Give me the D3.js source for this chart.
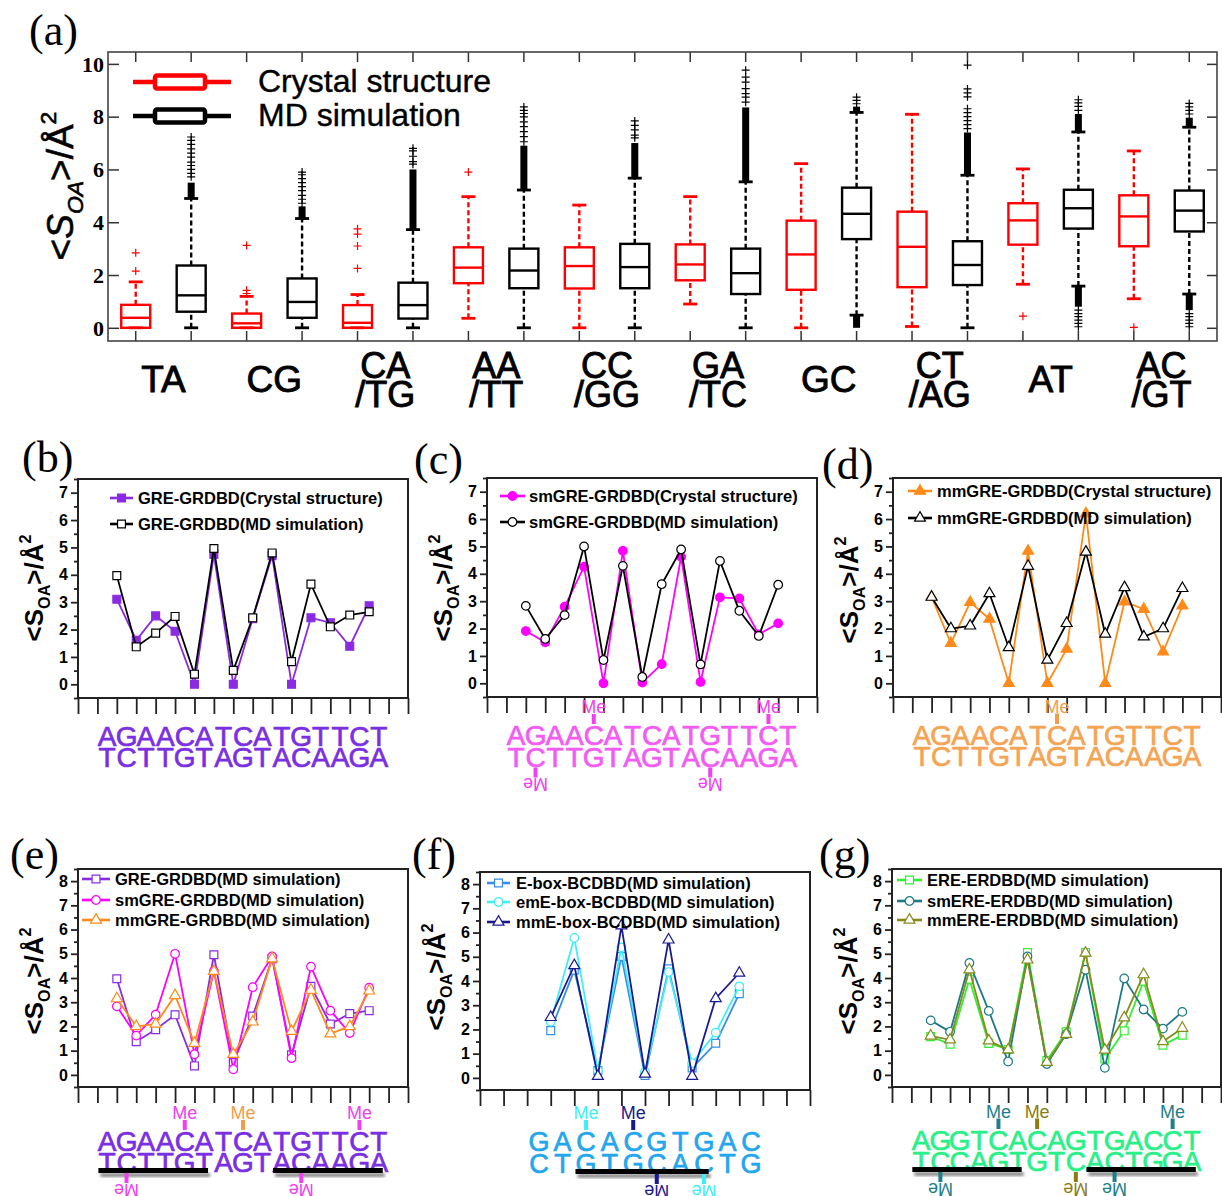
<!DOCTYPE html>
<html><head><meta charset="utf-8">
<script src="https://cdn.jsdelivr.net/npm/d3@7/dist/d3.min.js"></script>
<style>html,body{margin:0;padding:0;background:#fff;}svg{display:block;}</style>
</head><body>
<svg id="fig" width="1222" height="1196" xmlns="http://www.w3.org/2000/svg"></svg>
<script>
const SANS = "'Liberation Sans', Arial, sans-serif";
const SERIF = "'Liberation Serif', 'Times New Roman', serif";

// ================= DATA : panel (a) =================
const stepCategories = ["TA","CG","CA/TG","AA/TT","CC/GG","GA/TC","GC","CT/AG","AT","AC/GT"];
const boxSources = ["Crystal structure","MD simulation"];
const yTicksA = [0,2,4,6,8,10];
// [lower whisker, Q1, median, Q3, upper whisker]
const crystalStats = [
  [0,0,0.38,0.87,1.74],
  [0,0,0.17,0.54,1.19],
  [0,0,0.19,0.86,1.26],
  [0.36,1.69,2.28,3.05,4.97],
  [0,1.49,2.34,3.05,4.65],
  [0.9,1.8,2.4,3.16,4.97],
  [0,1.44,2.78,4.06,6.22],
  [0.05,1.54,3.07,4.4,8.09],
  [1.65,3.15,4.07,4.72,6.02],
  [1.1,3.09,4.22,5.02,6.7]
];
const mdStats = [
  [0,0.61,1.23,2.36,4.9],
  [0,0.38,0.98,1.87,4.14],
  [0,0.35,0.86,1.71,3.72],
  [0,1.5,2.17,3.0,5.22],
  [0,1.5,2.3,3.18,5.67],
  [0,1.28,2.07,3.0,5.53],
  [0.48,3.36,4.32,5.31,8.16],
  [0,1.62,2.38,3.28,5.78],
  [1.58,3.76,4.53,5.23,7.42],
  [1.28,3.65,4.44,5.2,7.6]
];
const crystalOutliers = [[2.15,2.84],[1.3,1.42,3.12],[2.25,3.1,3.55,3.75],[5.9],[],[],[],[],[0.44],[0.02]];
const mdOutliers = [
  [5.72,5.85,6.0,6.15,6.28,6.47,6.62,6.78,6.95,7.1,7.23],
  [4.72,4.87,5.02,5.2,5.35,5.5,5.65,5.8,5.9],
  [6.2,6.3,6.5,6.7,6.8],
  [7.05,7.24,7.43,7.62,7.8,7.99,8.12,8.24,8.37],
  [7.2,7.3,7.5,7.67,7.84],
  [8.55,8.74,8.87,9.06,9.31,9.5,9.76],
  [8.49,8.62,8.74],
  [7.55,7.7,7.85,8.0,8.15,8.3,8.75,8.9,9.05,9.95],
  [8.24,8.39,8.52,8.64,0.67,0.54,0.42,0.29,0.17,0.04],
  [8.1,8.24,8.37,8.5,0.54,0.42,0.29,0.17,0.04]
];
// ranges where MD outliers overlap into a solid column [from, to]
const mdDenseHigh = [[4.9,5.5],[4.14,4.6],[3.72,6.0],[5.22,6.9],[5.67,7.0],[5.53,8.35],[8.16,8.38],[5.78,7.4],[7.42,8.1],[7.6,7.96]];
const mdDenseLow = [null,null,null,null,null,null,[0,0.48],null,[0.8,1.58],[0.67,1.28]];

// ================= DATA : panels (b)-(g) =================
const greSeq = ["AGAACATCATGTTCT","TCTTGTAGTACAAGA"];
const ereSeq = ["AGGTCACAGTGACCT","TCCAGTGTCACTGGA"];
const eboxSeq = ["GACACGTGAC","CTGTGCACTG"];
const yTicksTop = [0,1,2,3,4,5,6,7];
const yTicksBottom = [0,1,2,3,4,5,6,7,8];

const greCrystal   = [3.11,1.61,2.5,1.94,0,4.75,0,2.4,4.7,0,2.43,2.25,1.39,2.87];
const greMD        = [3.97,1.37,1.87,2.48,0.37,4.96,0.51,2.43,4.8,0.83,3.66,2.1,2.53,2.65];
const smgreCrystal = [1.91,1.5,2.8,4.26,0,4.84,0.03,0.7,4.62,0.05,3.14,3.1,1.79,2.19];
const smgreMD      = [2.83,1.62,2.49,5.0,0.85,4.29,0.23,3.62,4.89,0.69,4.47,2.65,1.73,3.6];
const mmgreCrystal = [3.16,1.46,2.96,2.35,0,4.83,0,1.25,6.2,0,2.98,2.71,1.15,2.83];
const mmgreMD      = [3.15,2.0,2.1,3.28,1.31,4.28,0.85,2.19,4.8,1.8,3.5,1.7,2.0,3.47];
const eboxMD       = [1.95,4.45,0.3,5.01,0.1,4.5,0.41,1.43,3.48];
const emeboxMD     = [2.32,5.78,0.31,5.39,0.25,4.37,0.61,1.87,3.78];
const mmeboxMD     = [2.5,4.64,0.07,6.28,0.16,5.7,0.07,3.28,4.33];
const ereMD        = [1.58,1.27,3.95,1.3,1.05,5.05,0.59,1.78,5.05,0.66,1.82,3.87,1.23,1.64];
const smereMD      = [2.25,1.78,4.62,2.64,0.55,4.89,0.45,1.68,4.34,0.29,3.98,2.7,1.91,2.6];
const mmereMD      = [1.61,1.45,4.34,1.41,1.04,4.75,0.52,1.68,5.03,1.03,2.36,4.14,1.38,1.93];

// ================= STYLE =================
const C = {
  red:"#ff0000", black:"#000000",
  gre:"#8a2be2", greText:"#7a2fe3",
  sm:"#ff00ff", smText:"#f25cf2", smMe:"#f040f0",
  mm:"#ff8a1a", mmText:"#f5a454", mmMe:"#f59c4a",
  ebox:"#3a8ee6", emebox:"#3df0f8", mmebox:"#1a1a8f", eboxText:"#22a6ee",
  ere:"#33ee33", smere:"#1d7a84", mmere:"#878a1c", ereText:"#2af089", ereTeal:"#1d8088", ereOlive:"#8c7c12"
};

const svg = d3.select("#fig");
svg.append("rect").attr("width",1222).attr("height",1196).attr("fill","#fff");
const defs = svg.append("defs");
defs.append("filter").attr("id","blur").append("feGaussianBlur").attr("stdDeviation",1.6);

function panelLabel(t, x, y){
  svg.append("text").attr("x",x).attr("y",y).attr("font-family",SERIF).attr("font-size",44).text(t);
}
function yLabel(x, y, size, italic, weight, stroke){
  const t = svg.append("text").attr("transform",`translate(${x},${y}) rotate(-90)`)
    .attr("text-anchor","middle").attr("font-family",SANS).attr("font-size",size).attr("font-weight",weight);
  if (stroke) t.attr("stroke","#000").attr("stroke-width",stroke);
  t.append("tspan").text("<");
  t.append("tspan").text("S").attr("font-style",italic?"italic":null);
  t.append("tspan").text("OA").attr("font-size",size*0.62).attr("dy",size*0.28).attr("font-style",italic?"italic":null);
  t.append("tspan").text(">/Å").attr("dy",-size*0.28);
  t.append("tspan").text("2").attr("font-size",size*0.62).attr("dy",-size*0.45);
}

// ================= PANEL (a) =================
(function(){
  const F = {x0:108, x1:1217, y0:52, y1:341};
  const g = svg.append("g");
  const slots = [];
  stepCategories.forEach(c => boxSources.forEach(s => slots.push(c+"|"+s)));
  const x = d3.scaleBand().domain(slots).range([F.x0, F.x1]);
  const y = d3.scaleLinear().domain([-0.5,10.45]).range([F.y1, F.y0]);
  const cx = k => x(k) + x.bandwidth()/2;

  // axes
  g.append("g").attr("transform",`translate(${F.x0},0)`)
    .call(d3.axisRight(y).tickValues(yTicksA).tickSize(11).tickFormat(""))
    .call(a=>a.select(".domain").remove());
  g.append("g").attr("transform",`translate(${F.x1},0)`)
    .call(d3.axisLeft(y).tickValues(yTicksA).tickSize(10).tickFormat(""))
    .call(a=>a.select(".domain").remove());
  g.append("g").attr("transform",`translate(0,${F.y0})`)
    .call(d3.axisBottom(x).tickSize(10).tickFormat(""))
    .call(a=>a.select(".domain").remove());
  g.append("g").attr("transform",`translate(0,${F.y1})`)
    .call(d3.axisTop(x).tickSize(10).tickFormat(""))
    .call(a=>a.select(".domain").remove());
  g.selectAll(".tick line").attr("stroke","#333").attr("stroke-width",1.5);
  g.append("rect").attr("x",F.x0).attr("y",F.y0).attr("width",F.x1-F.x0).attr("height",F.y1-F.y0)
    .attr("fill","none").attr("stroke","#444").attr("stroke-width",1.6);
  g.selectAll(".ylab").data(yTicksA).enter().append("text")
    .attr("x",F.x0-4).attr("y",d=>y(d)).attr("dy","0.35em").attr("text-anchor","end")
    .attr("font-family",SERIF).attr("font-weight","bold").attr("font-size",22).text(d=>d);

  const bw = 29;
  function drawBox(k, st, color, outl, dHi, dLo){
    const c = cx(k);
    const [lo,q1,med,q3,hi] = st;
    const bg = g.append("g");
    bg.append("line").attr("x1",c).attr("x2",c).attr("y1",y(q3)).attr("y2",y(hi))
      .attr("stroke",color).attr("stroke-width",2.4).attr("stroke-dasharray","5,3");
    if (q1 > lo) bg.append("line").attr("x1",c).attr("x2",c).attr("y1",y(lo)).attr("y2",y(q1))
      .attr("stroke",color).attr("stroke-width",2.4).attr("stroke-dasharray","5,3");
    if (dHi) bg.append("rect").attr("x",c-3.5).attr("width",7).attr("y",y(dHi[1])).attr("height",y(dHi[0])-y(dHi[1])).attr("fill",color);
    if (dLo) bg.append("rect").attr("x",c-3.5).attr("width",7).attr("y",y(dLo[1])).attr("height",y(dLo[0])-y(dLo[1])).attr("fill",color);
    [hi,lo].forEach(v => bg.append("line").attr("x1",c-7).attr("x2",c+7).attr("y1",y(v)).attr("y2",y(v))
      .attr("stroke",color).attr("stroke-width",2.8));
    bg.append("rect").attr("x",c-bw/2).attr("width",bw).attr("y",y(q3)).attr("height",y(q1)-y(q3))
      .attr("fill","none").attr("stroke",color).attr("stroke-width",2.4);
    bg.append("line").attr("x1",c-bw/2).attr("x2",c+bw/2).attr("y1",y(med)).attr("y2",y(med))
      .attr("stroke",color).attr("stroke-width",2.4);
    bg.selectAll(".o").data(outl).enter().append("path")
      .attr("d",v=>`M${c-4},${y(v)}H${c+4}M${c},${y(v)-4}V${y(v)+4}`)
      .attr("stroke",color).attr("stroke-width",1.2).attr("fill","none");
  }
  stepCategories.forEach((cat,i)=>{
    drawBox(cat+"|"+boxSources[0], crystalStats[i], C.red, crystalOutliers[i], null, null);
    drawBox(cat+"|"+boxSources[1], mdStats[i], C.black, mdOutliers[i], mdDenseHigh[i], mdDenseLow[i]);
    const mid = (cx(cat+"|"+boxSources[0]) + cx(cat+"|"+boxSources[1]))/2;
    const parts = cat.split("/");
    const lab = t => g.append("text").attr("x",mid).attr("text-anchor","middle")
        .attr("font-family",SANS).attr("stroke","#000").attr("stroke-width",0.9).text(t);
    if (parts.length === 1) {
      lab(cat).attr("y",392).attr("font-size",37);
    } else {
      lab(parts[0]).attr("y",378).attr("font-size",36);
      lab("/"+parts[1]).attr("y",407).attr("font-size",36);
    }
  });
  // legend
  [[C.red,82,92],[C.black,116,126]].forEach(([col,ly,ty],i)=>{
    g.append("line").attr("x1",133).attr("x2",231).attr("y1",ly).attr("y2",ly).attr("stroke",col).attr("stroke-width",4.5);
    g.append("rect").attr("x",155).attr("y",ly-6.5).attr("width",50).attr("height",13).attr("rx",2)
      .attr("fill","#fff").attr("stroke",col).attr("stroke-width",4.5);
    g.append("text").attr("x",258).attr("y",ty).attr("font-family",SANS).attr("font-size",32)
      .attr("stroke","#000").attr("stroke-width",0.4).text(boxSources[i]);
  });
  yLabel(73,186,37,true,"normal",0.6);
  panelLabel("(a)",29,45);
})();

// ================= PANELS (b)-(g) =================
const symbolOf = {square:d3.symbolSquare, circle:d3.symbolCircle, triangle:d3.symbolTriangle};
const symSize = {square:62, circle:58, triangle:52};

function drawLinePanel(p){
  const g = svg.append("g");
  const x = d3.scaleLinear().domain([0,p.nTicks-1]).range([p.x0,p.x1]);
  const y = d3.scaleLinear().domain([-0.5, p.yTicks[p.yTicks.length-1]+0.5]).range([p.y1,p.y0]);
  const yMax = p.yTicks[p.yTicks.length-1];
  // y axis major + minor
  g.append("g").attr("transform",`translate(${p.x0},0)`)
    .call(d3.axisLeft(y).tickValues(d3.range(-0.5,yMax+0.6,1)).tickSize(4).tickFormat(""))
    .call(a=>a.select(".domain").remove());
  g.append("g").attr("transform",`translate(${p.x0},0)`)
    .call(d3.axisLeft(y).tickValues(p.yTicks).tickSize(7).tickPadding(3))
    .call(a=>a.select(".domain").remove())
    .call(a=>a.selectAll("text").attr("font-family",SANS).attr("font-weight","bold").attr("font-size",16).attr("fill","#000"));
  // x axis ticks (outward)
  g.append("g").attr("transform",`translate(0,${p.y1})`)
    .call(d3.axisBottom(x).tickValues(d3.range(p.nTicks)).tickSize(16).tickFormat(""))
    .call(a=>a.select(".domain").remove());
  g.selectAll(".tick line").attr("stroke","#222").attr("stroke-width",1.8);
  g.append("rect").attr("x",p.x0).attr("y",p.y0).attr("width",p.x1-p.x0).attr("height",p.y1-p.y0)
    .attr("fill","none").attr("stroke","#222").attr("stroke-width",2);

  // series
  const line = d3.line().x((d,i)=>x(i+p.offset)).y(d=>y(d));
  p.series.forEach(s=>{
    g.append("path").datum(s.values).attr("d",line).attr("fill","none").attr("stroke",s.line).attr("stroke-width",1.8);
    g.selectAll(null).data(s.values).enter().append("path")
      .attr("transform",(d,i)=>`translate(${x(i+p.offset)},${y(d)})`)
      .attr("d",d3.symbol().type(symbolOf[s.symbol]).size(symSize[s.symbol]))
      .attr("fill",s.filled?s.marker:"#fff").attr("stroke",s.marker).attr("stroke-width",1.2);
  });
  // legend
  p.series.forEach((s,i)=>{
    const ly = p.legend.ys[i];
    g.append("line").attr("x1",p.legend.x).attr("x2",p.legend.x+p.legend.w).attr("y1",ly).attr("y2",ly)
      .attr("stroke",s.line).attr("stroke-width",2.6);
    g.append("path").attr("transform",`translate(${p.legend.x+p.legend.w/2},${ly})`)
      .attr("d",d3.symbol().type(symbolOf[s.symbol]).size(symSize[s.symbol]))
      .attr("fill",s.filled?s.marker:"#fff").attr("stroke",s.marker).attr("stroke-width",1.2);
    g.append("text").attr("x",p.legend.tx).attr("y",ly).attr("dy","0.36em")
      .attr("font-family",SANS).attr("font-weight","bold").attr("font-size",16.5).text(s.name);
  });

  // sequence
  const step = x(1)-x(0);
  const lx = k => x(k + p.offset - 0.5);
  p.seq.forEach((strand,si)=>{
    g.selectAll(null).data(strand.split("")).enter().append("text")
      .attr("x",(d,k)=>lx(k)).attr("y",si===0?p.topBase:p.botBase).attr("text-anchor","middle")
      .attr("font-family",SANS).attr("font-size",p.seqSize).attr("fill",p.seqColor)
      .attr("stroke",p.seqColor).attr("stroke-width",0.7).text(d=>d);
  });
  (p.bars||[]).forEach(b=>{
    const xa = lx(b[0]) - 0.45*step, xb = lx(b[1]) + 0.2*step;
    g.append("rect").attr("x",xa+2).attr("y",p.botBase+1).attr("width",xb-xa).attr("height",4)
      .attr("fill","#888").attr("filter","url(#blur)");
    g.append("rect").attr("x",xa).attr("y",p.botBase-4).attr("width",xb-xa).attr("height",5).attr("fill","#000");
  });
  (p.me||[]).forEach(m=>{
    const c = lx(m.idx);
    if (m.strand===0){
      g.append("text").attr("x",c).attr("y",p.meBase).attr("text-anchor","middle")
        .attr("font-family",SANS).attr("font-size",18).attr("fill",m.color).text("Me");
      g.append("rect").attr("x",c-2).attr("y",p.meBase+1).attr("width",4).attr("height",p.topBase-21-p.meBase-1).attr("fill",m.color);
    } else {
      g.append("rect").attr("x",c-2).attr("y",p.botBase+1).attr("width",4).attr("height",10).attr("fill",m.color);
      g.append("text").attr("transform",`translate(${c},${p.botBase+18}) rotate(180)`).attr("text-anchor","middle")
        .attr("dy","0.36em").attr("font-family",SANS).attr("font-size",18).attr("fill",m.color).text("Me");
    }
  });
  yLabel(p.x0-35, p.ylabY, 26, false, "bold", 0);
  panelLabel(p.label, p.lab[0], p.lab[1]);
}

const panels = [
  {label:"(b)", lab:[22,472], x0:78, x1:408, y0:479, y1:698, yTicks:yTicksTop, nTicks:18, offset:2, ylabY:588,
   seq:greSeq, seqColor:C.greText, seqSize:28, topBase:746, botBase:767,
   legend:{x:110,w:23,ys:[498,524],tx:138},
   series:[{name:"GRE-GRDBD(Crystal structure)", values:greCrystal, line:C.gre, marker:C.gre, symbol:"square", filled:true},
           {name:"GRE-GRDBD(MD simulation)", values:greMD, line:"#000", marker:"#000", symbol:"square", filled:false}]},
  {label:"(c)", lab:[414,474], x0:487, x1:817, y0:478, y1:697, yTicks:yTicksTop, nTicks:18, offset:2, ylabY:588,
   seq:greSeq, seqColor:C.smText, seqSize:28, topBase:745, botBase:766.5, meBase:713,
   legend:{x:500,w:25,ys:[496,522],tx:529},
   me:[{strand:0,idx:4,color:C.smMe},{strand:0,idx:13,color:C.smMe},{strand:1,idx:1,color:C.smMe},{strand:1,idx:10,color:C.smMe}],
   series:[{name:"smGRE-GRDBD(Crystal structure)", values:smgreCrystal, line:C.sm, marker:C.sm, symbol:"circle", filled:true},
           {name:"smGRE-GRDBD(MD simulation)", values:smgreMD, line:"#000", marker:"#000", symbol:"circle", filled:false}]},
  {label:"(d)", lab:[822,479], x0:893, x1:1221, y0:478, y1:697, yTicks:yTicksTop, nTicks:18, offset:2, ylabY:590,
   seq:greSeq, seqColor:C.mmText, seqSize:28, topBase:745, botBase:765.5, meBase:712.5,
   legend:{x:908,w:24,ys:[491,518],tx:937},
   me:[{strand:0,idx:7,color:C.mmMe}],
   series:[{name:"mmGRE-GRDBD(Crystal structure)", values:mmgreCrystal, line:C.mm, marker:C.mm, symbol:"triangle", filled:true},
           {name:"mmGRE-GRDBD(MD simulation)", values:mmgreMD, line:"#000", marker:"#000", symbol:"triangle", filled:false}]},
  {label:"(e)", lab:[10,869], x0:78, x1:408, y0:869, y1:1087, yTicks:yTicksBottom, nTicks:18, offset:2, ylabY:981,
   seq:greSeq, seqColor:C.greText, seqSize:28, topBase:1151, botBase:1172, meBase:1119,
   legend:{x:82,w:28,ys:[879,900,920],tx:115},
   bars:[[0,5],[9,14]],
   me:[{strand:0,idx:4,color:C.smMe},{strand:0,idx:7,color:C.mmMe},{strand:0,idx:13,color:C.smMe},{strand:1,idx:1,color:C.smMe},{strand:1,idx:10,color:C.smMe}],
   series:[{name:"GRE-GRDBD(MD simulation)", values:greMD, line:C.gre, marker:C.gre, symbol:"square", filled:false},
           {name:"smGRE-GRDBD(MD simulation)", values:smgreMD, line:C.sm, marker:C.sm, symbol:"circle", filled:false},
           {name:"mmGRE-GRDBD(MD simulation)", values:mmgreMD, line:C.mm, marker:C.mm, symbol:"triangle", filled:false}]},
  {label:"(f)", lab:[412,869], x0:480, x1:810, y0:872, y1:1090, yTicks:yTicksBottom, nTicks:15, offset:3, ylabY:977,
   seq:eboxSeq, seqColor:C.eboxText, seqSize:27, topBase:1151, botBase:1173, meBase:1119,
   legend:{x:487,w:23,ys:[883,902,922],tx:516},
   bars:[[2,7]],
   me:[{strand:0,idx:2,color:C.emebox},{strand:0,idx:4,color:C.mmebox},{strand:1,idx:5,color:C.mmebox},{strand:1,idx:7,color:C.emebox}],
   series:[{name:"E-box-BCDBD(MD simulation)", values:eboxMD, line:C.ebox, marker:C.ebox, symbol:"square", filled:false},
           {name:"emE-box-BCDBD(MD simulation)", values:emeboxMD, line:C.emebox, marker:C.emebox, symbol:"circle", filled:false},
           {name:"mmE-box-BCDBD(MD simulation)", values:mmeboxMD, line:C.mmebox, marker:C.mmebox, symbol:"triangle", filled:false}]},
  {label:"(g)", lab:[819,869], x0:892, x1:1221, y0:869, y1:1087, yTicks:yTicksBottom, nTicks:18, offset:2, ylabY:981,
   seq:ereSeq, seqColor:C.ereText, seqSize:28, topBase:1150, botBase:1171, meBase:1117.5,
   legend:{x:897,w:25,ys:[880,901,920],tx:927},
   bars:[[0,5],[9,14]],
   me:[{strand:0,idx:4,color:C.ereTeal},{strand:0,idx:6,color:C.ereOlive},{strand:0,idx:13,color:C.ereTeal},
       {strand:1,idx:1,color:C.ereTeal},{strand:1,idx:8,color:C.ereOlive},{strand:1,idx:10,color:C.ereTeal}],
   series:[{name:"ERE-ERDBD(MD simulation)", values:ereMD, line:C.ere, marker:C.ere, symbol:"square", filled:false},
           {name:"smERE-ERDBD(MD simulation)", values:smereMD, line:C.smere, marker:C.smere, symbol:"circle", filled:false},
           {name:"mmERE-ERDBD(MD simulation)", values:mmereMD, line:C.mmere, marker:C.mmere, symbol:"triangle", filled:false}]}
];
panels.forEach(drawLinePanel);
</script>
</body></html>
